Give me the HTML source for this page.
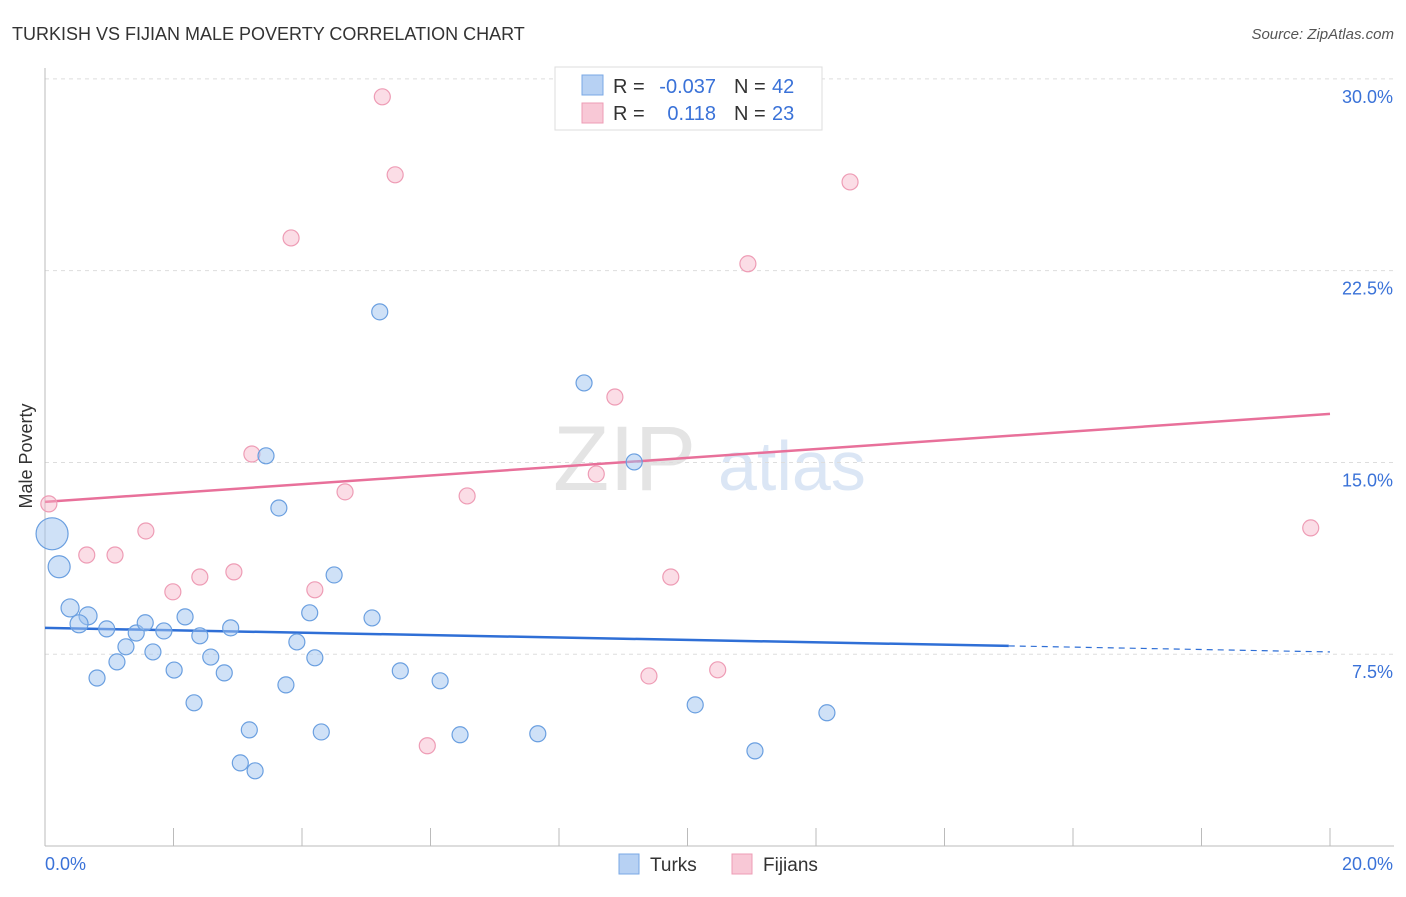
<!DOCTYPE html>
<html><head><meta charset="utf-8">
<style>
body{margin:0;background:#fff;font-family:"Liberation Sans",sans-serif;}
svg text{font-family:"Liberation Sans",sans-serif;}
</style></head>
<body>
<svg id="chart" width="1406" height="892" xmlns="http://www.w3.org/2000/svg">
<text x="12" y="40" font-size="18" fill="#333">TURKISH VS FIJIAN MALE POVERTY CORRELATION CHART</text>
<text x="1394" y="39" font-size="15" fill="#555" font-style="italic" text-anchor="end">Source: ZipAtlas.com</text>
<text x="32" y="456" font-size="18" fill="#333" text-anchor="middle" transform="rotate(-90 32 456)">Male Poverty</text>
<g>
<text x="553" y="490" font-size="92" fill="#e4e4e4" font-family="Liberation Serif,serif">ZIP</text>
<text x="718" y="490" font-size="70" fill="#dbe6f5">atlas</text>
</g>
<g id="grid"></g>
<g id="axes"></g>
<g id="trend"></g>
<g id="pts"></g>
<g>
<rect x="555" y="67" width="267" height="63" fill="#fff" stroke="#ddd"/>
<rect x="582" y="75" width="21" height="20" fill="#b7d1f3" stroke="#7aa8e6"/>
<rect x="582" y="103" width="21" height="20" fill="#f8c8d6" stroke="#ee9cb5"/>
<text x="613" y="93" font-size="20" fill="#333">R = </text><text x="716" y="93" font-size="20" fill="#3a72d8" text-anchor="end">-0.037</text>
<text x="734" y="93" font-size="20" fill="#333">N = </text><text x="772" y="93" font-size="20" fill="#3a72d8">42</text>
<text x="613" y="120" font-size="20" fill="#333">R = </text><text x="716" y="120" font-size="20" fill="#3a72d8" text-anchor="end">0.118</text>
<text x="734" y="120" font-size="20" fill="#333">N = </text><text x="772" y="120" font-size="20" fill="#3a72d8">23</text>
</g>
<g>
<g><rect x="619" y="854" width="20" height="20" fill="#b7d1f3" stroke="#7aa8e6"/><text x="650" y="871" font-size="19" fill="#333">Turks</text></g>
<g><rect x="732" y="854" width="20" height="20" fill="#f8c8d6" stroke="#ee9cb5"/><text x="763" y="871" font-size="19" fill="#333">Fijians</text></g>
</g>
</svg>
<script>
const yTicks=[7.5,15,22.5,30];
const yTickLabels=["7.5%","15.0%","22.5%","30.0%"];
const xTickLabels=["0.0%","20.0%"];
const turksX=[0.11,0.22,0.39,0.67,0.53,0.96,1.42,1.56,1.85,2.18,2.41,2.89,1.26,1.68,1.12,0.81,2.01,2.58,2.79,2.32,3.44,3.64,3.92,4.12,4.20,3.75,3.18,4.30,3.04,3.27,4.50,5.09,5.21,5.53,6.15,6.46,7.67,8.39,9.17,10.12,11.05,12.17];
const turksY=[12.21,10.92,9.31,9.0,8.69,8.49,8.33,8.73,8.41,8.96,8.22,8.53,7.79,7.59,7.20,6.57,6.88,7.39,6.77,5.60,15.26,13.22,7.98,9.12,7.36,6.30,4.54,4.46,3.25,2.94,10.60,8.92,20.89,6.85,6.46,4.35,4.39,18.11,15.02,5.52,3.72,5.21];
const turksR=[16,11,9,9,9,8,8,8,8,8,8,8,8,8,8,8,8,8,8,8,8,8,8,8,8,8,8,8,8,8,8,8,8,8,8,8,8,8,8,8,8,8];
const fijiX=[0.06,0.65,1.09,1.57,1.99,2.41,2.94,3.22,3.83,4.20,4.67,5.25,5.45,5.95,6.57,8.58,8.87,9.40,9.74,10.47,10.94,12.53,19.70];
const fijiY=[13.38,11.38,11.38,12.32,9.94,10.52,10.72,15.33,23.78,10.02,13.85,29.30,26.25,3.92,13.69,14.55,17.56,6.65,10.52,6.89,22.77,25.97,12.44];
const turksTrend=[8.53,7.59];
const fijiTrend=[13.46,16.90];
const turksSolidEnd=15.0;
const NS="http://www.w3.org/2000/svg";
const xs=v=>45+v*64.25;
const ys=v=>846-v*25.57;
function mk(tag,attrs,parent){const e=document.createElementNS(NS,tag);for(const k in attrs)e.setAttribute(k,attrs[k]);parent.appendChild(e);return e;}
const grid=document.getElementById('grid'),axes=document.getElementById('axes'),trend=document.getElementById('trend'),pts=document.getElementById('pts');
yTicks.forEach((t,i)=>{
 const l=mk('line',{x1:45,x2:1394,y1:ys(t),y2:ys(t),stroke:'#ddd','stroke-dasharray':'4,4'},grid);
 
 
 const tx=mk('text',{x:1393,y:ys(t)+24,'font-size':18,fill:'#3a72d8','text-anchor':'end'},axes);
 tx.textContent=yTickLabels[i];
 
 
});
mk('line',{x1:45,x2:45,y1:68,y2:846,stroke:'#bbb'},axes);
mk('line',{x1:45,x2:1394,y1:846,y2:846,stroke:'#bbb'},axes);
for(let i=0;i<=10;i++){
 const t=mk('line',{x1:xs(i*2),x2:xs(i*2),y1:828,y2:846,stroke:'#bbb'},axes);
 
 
}
[[0,'start',45],[20,'end',1393]].forEach((a,i)=>{
 const tx=mk('text',{x:a[2],y:870,'font-size':18,fill:'#3a72d8','text-anchor':a[1]},axes);
 tx.textContent=xTickLabels[i];
 
 
});
const bAt=x=>turksTrend[0]+(turksTrend[1]-turksTrend[0])*x/20;
let tl=mk('line',{x1:xs(0),y1:ys(bAt(0)),x2:xs(turksSolidEnd),y2:ys(bAt(turksSolidEnd)),stroke:'#2f6fd6','stroke-width':2.5},trend);


tl=mk('line',{x1:xs(turksSolidEnd),y1:ys(bAt(turksSolidEnd)),x2:xs(20),y2:ys(bAt(20)),stroke:'#2f6fd6','stroke-width':1.2,'stroke-dasharray':'6,5'},trend);


tl=mk('line',{x1:xs(0),y1:ys(fijiTrend[0]),x2:xs(20),y2:ys(fijiTrend[1]),stroke:'#e8709a','stroke-width':2.5},trend);


fijiX.forEach((x,i)=>{
 const c=mk('circle',{cx:xs(x),cy:ys(fijiY[i]),r:8,fill:'rgba(246,180,200,0.45)',stroke:'#ee9cb5','stroke-width':1.2},pts);
 
 
});
turksX.forEach((x,i)=>{
 const c=mk('circle',{cx:xs(x),cy:ys(turksY[i]),r:turksR[i],fill:'rgba(160,195,240,0.5)',stroke:'#6a9fe0','stroke-width':1.2},pts);
 
 
});
</script>
</body></html>
